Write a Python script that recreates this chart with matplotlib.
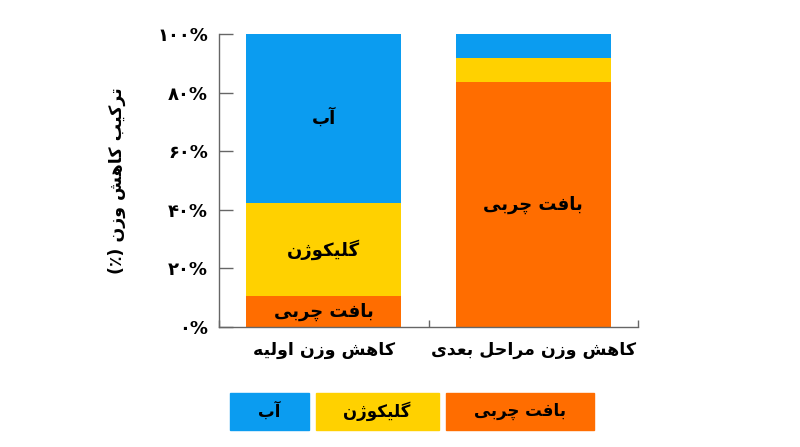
import numpy as np
import matplotlib
matplotlib.use('Agg')
import matplotlib.pyplot as plt
from matplotlib.patches import Rectangle


# chart values
categories = ['کاهش وزن اولیه', 'کاهش وزن مراحل بعدی']
components = ['بافت چربی', 'گلیکوژن', 'آب']
fat = [10.6, 83.5]
glycogen = [31.8, 8.2]
water = [57.6, 8.3]
colors = ['#FF6D00', '#FFD100', '#0B9CF0']
y_ticks = [0, 20, 40, 60, 80, 100]
y_label = 'ترکیب کاهش وزن (٪)'


# arabic letters -> presentation forms (isolated, final, initial, medial)
DUAL = {
    'ب': '\uFE8F\uFE90\uFE91\uFE92', 'ت': '\uFE95\uFE96\uFE97\uFE98',
    'ح': '\uFEA1\uFEA2\uFEA3\uFEA4', 'ش': '\uFEB5\uFEB6\uFEB7\uFEB8',
    'ع': '\uFEC9\uFECA\uFECB\uFECC', 'ف': '\uFED1\uFED2\uFED3\uFED4',
    'ل': '\uFEDD\uFEDE\uFEDF\uFEE0', 'م': '\uFEE1\uFEE2\uFEE3\uFEE4',
    'ن': '\uFEE5\uFEE6\uFEE7\uFEE8', 'ه': '\uFEE9\uFEEA\uFEEB\uFEEC',
    'چ': '\uFB7A\uFB7B\uFB7C\uFB7D', 'ک': '\uFB8E\uFB8F\uFB90\uFB91',
    'گ': '\uFB92\uFB93\uFB94\uFB95', 'ی': '\uFBFC\uFBFD\uFBFE\uFBFF',
}
RIGHT = {
    'ا': '\uFE8D\uFE8E', 'آ': '\uFE81\uFE82', 'د': '\uFEA9\uFEAA',
    'ر': '\uFEAD\uFEAE', 'ز': '\uFEAF\uFEB0', 'ژ': '\uFB8A\uFB8B',
    'و': '\uFEED\uFEEE',
}


# shape letters and flip to visual order (matplotlib has no bidi)
def fa(text):
    out = []
    for i, c in enumerate(text):
        prev = text[i - 1] if i > 0 else ''
        nxt = text[i + 1] if i < len(text) - 1 else ''
        join_prev = prev in DUAL and (c in DUAL or c in RIGHT)
        if c in DUAL:
            join_next = nxt in DUAL or nxt in RIGHT
            if join_prev and join_next:
                out.append(DUAL[c][3])
            elif join_prev:
                out.append(DUAL[c][1])
            elif join_next:
                out.append(DUAL[c][2])
            else:
                out.append(DUAL[c][0])
        elif c in RIGHT:
            out.append(RIGHT[c][1 if join_prev else 0])
        else:
            out.append(c)
    s = ''.join(out)[::-1]
    return s.translate(str.maketrans('()', ')('))


def fa_num(n):
    return str(n).translate(str.maketrans('0123456789', '۰۱۲۳۴۵۶۷۸۹'))


plt.rcParams['font.family'] = ['DejaVu Sans']
plt.rcParams['font.weight'] = 'bold'
plt.rcParams['axes.labelweight'] = 'bold'

fig = plt.figure(figsize=(8, 4.47), dpi=100)
ax = fig.add_axes([0.27375, 0.2685, 0.52375, 0.6555])

x = np.arange(len(categories)) + 0.5
series = [fat, glycogen, water]
bottom = np.zeros(len(categories))
for name, vals, col in zip(components, series, colors):
    vals = np.array(vals)
    ax.bar(x, vals, width=0.74, bottom=bottom, color=col, linewidth=0)
    for xi, b, v in zip(x, bottom, vals):
        if v >= 10:
            ax.text(xi, b + v / 2, fa(name), ha='center', va='center',
                    fontsize=13, color='black')
    bottom += vals

ax.set_xlim(0, 2)
ax.set_ylim(0, 100)
ax.spines['top'].set_visible(False)
ax.spines['right'].set_visible(False)
for s in ['left', 'bottom']:
    ax.spines[s].set_color('#666666')
    ax.spines[s].set_linewidth(1)

ax.set_yticks(y_ticks)
ax.set_yticklabels([fa_num(t) + '%' for t in y_ticks], fontsize=13)
ax.tick_params(axis='y', direction='in', length=10, width=1,
               color='#666666', pad=8)

ax.set_xticks([0, 1, 2])
ax.set_xticklabels([])
ax.tick_params(axis='x', which='major', direction='in', length=5, width=1,
               color='#666666')
ax.set_xticks(x, minor=True)
ax.set_xticklabels([fa(c) for c in categories], minor=True, fontsize=12.5)
ax.tick_params(axis='x', which='minor', length=0, pad=10)

ax.set_ylabel(fa(y_label), fontsize=12.5, labelpad=22)

# legend: colored boxes with the name inside, right-to-left order
fig.canvas.draw()
renderer = fig.canvas.get_renderer()
W, H = fig.get_size_inches() * fig.dpi
pad_x, gap = 28, 7
left = 230
box_top, box_bottom = 393, 430
for name, col in zip(components[::-1], colors[::-1]):
    t = fig.text(0, 0, fa(name), fontsize=12, ha='center', va='center')
    w = t.get_window_extent(renderer).width
    bw = w + 2 * pad_x
    fig.patches.append(Rectangle((left / W, 1 - box_bottom / H), bw / W,
                                 (box_bottom - box_top) / H, color=col,
                                 transform=fig.transFigure, zorder=0))
    t.set_position(((left + bw / 2) / W, 1 - (box_top + box_bottom) / 2 / H))
    left += bw + gap

fig.savefig('out.png', dpi=100)
